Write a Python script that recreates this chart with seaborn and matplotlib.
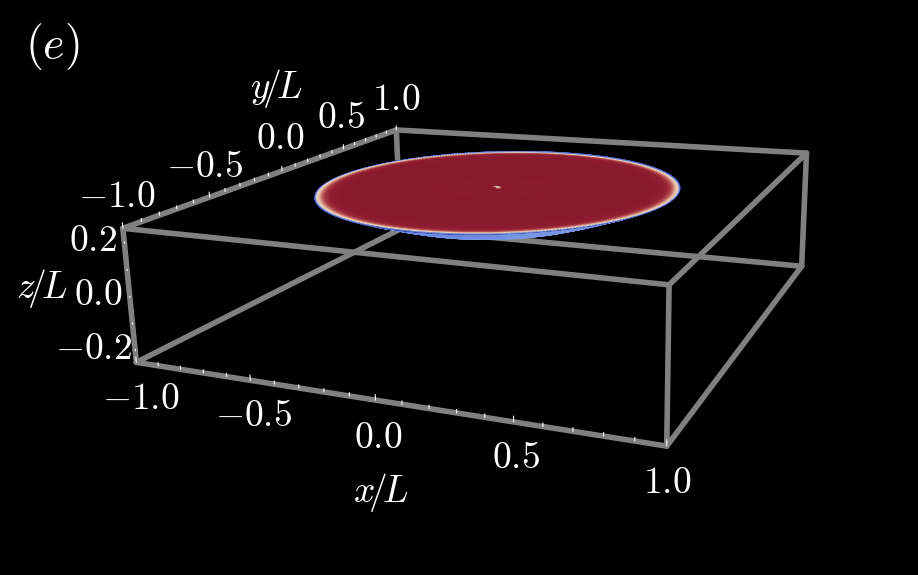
#!/usr/bin/env python3
import numpy as np
import pandas as pd
import seaborn as sns
import matplotlib.pyplot as plt

# box limits and ticks
x_lim = [-1.0, 1.0]
y_lim = [-1.0, 1.0]
z_lim = [-0.25, 0.25]
x_ticks = [-1.0, -0.5, 0.0, 0.5, 1.0]
y_ticks = [-1.0, -0.5, 0.0, 0.5, 1.0]
z_ticks = [-0.2, 0.0, 0.2]

# droplet: radial field (0 = blue rim, 1 = dark red)
radius = [0.0, 0.008, 0.02, 0.05, 0.12, 0.2, 0.3, 0.45, 0.55, 0.62, 0.65, 0.672, 0.688, 0.699, 0.703, 0.707]
top_field = [0.36, 0.55, 0.95, 0.98, 0.97, 0.98, 1.0, 1.0, 0.99, 0.95, 0.88, 0.74, 0.54, 0.42, 0.28, 0.04]
under_field = [0.2, 0.2, 0.22, 0.21, 0.19, 0.22, 0.2, 0.22, 0.2, 0.19, 0.2, 0.2, 0.18, 0.15, 0.1, 0.0]
sag = [0.098, 0.098, 0.098, 0.098, 0.098, 0.097, 0.096, 0.088, 0.056, 0.031, 0.021, 0.013, 0.007, 0.003, 0.001, 0.0]

# camera: where the box corners land on the 918x575 canvas
corner_xyz = [(-1, -1, 0.25), (1, -1, 0.25), (1, 1, 0.25), (-1, 1, 0.25),
              (-1, -1, -0.25), (1, -1, -0.25), (1, 1, -0.25), (-1, 1, -0.25)]
corner_px = [(122, 228), (668, 287), (806, 153), (398, 129),
             (137, 361), (668, 446), (802, 265), (399, 231)]


def fit_camera(xyz, px):
    rows = []
    rhs = []
    for (X, Y, Z), (u, v) in zip(xyz, px):
        rows.append([X, Y, Z, 1, 0, 0, 0, 0, -u * X, -u * Y, -u * Z])
        rows.append([0, 0, 0, 0, X, Y, Z, 1, -v * X, -v * Y, -v * Z])
        rhs += [u, v]
    p = np.linalg.lstsq(np.array(rows, float), np.array(rhs, float), rcond=None)[0]
    return np.append(p, 1.0).reshape(3, 4)


CAM = fit_camera(corner_xyz, corner_px)


def project(X, Y, Z):
    X, Y, Z = np.broadcast_arrays(X, Y, Z)
    w = CAM[2, 0] * X + CAM[2, 1] * Y + CAM[2, 2] * Z + CAM[2, 3]
    u = (CAM[0, 0] * X + CAM[0, 1] * Y + CAM[0, 2] * Z + CAM[0, 3]) / w
    v = (CAM[1, 0] * X + CAM[1, 1] * Y + CAM[1, 2] * Z + CAM[1, 3]) / w
    return u, v


def segments(pairs):
    rows = []
    for i, (a, b) in enumerate(pairs):
        for p in (a, b):
            u, v = project(*p)
            rows.append({"u": float(u), "v": float(v), "seg": i})
    return pd.DataFrame(rows)


sns.set_theme(style="dark", rc={"figure.facecolor": "black", "axes.facecolor": "black",
                                "mathtext.fontset": "cm", "text.color": "white"})

fig = plt.figure(figsize=(9.18, 5.75), dpi=100)
ax = fig.add_axes([0, 0, 1, 1])
ax.set_xlim(0, 918)
ax.set_ylim(575, 0)
ax.axis("off")

# box edges
x0, x1 = x_lim
y0, y1 = y_lim
z0, z1 = z_lim
edges = []
for z in (z0, z1):
    edges += [((x0, y0, z), (x1, y0, z)), ((x1, y0, z), (x1, y1, z)),
              ((x1, y1, z), (x0, y1, z)), ((x0, y1, z), (x0, y0, z))]
for x in (x0, x1):
    for y in (y0, y1):
        edges.append(((x, y, z0), (x, y, z1)))
sns.lineplot(data=segments(edges), x="u", y="v", units="seg", estimator=None, sort=False,
             color="#808080", linewidth=4.0, ax=ax, zorder=2, legend=False)

# tick marks
ticks = []
for t in np.arange(-10, 11):
    s = t / 10
    length = 0.02 if t % 5 == 0 else 0.012
    ticks.append(((s, y0, z0), (s, y0, z0 + length)))
    ticks.append(((x0, s, z1), (x0, s, z1 + length)))
for t in np.arange(-2, 3):
    s = t / 10
    ticks.append(((x0, y0, s), (x0 + 0.012, y0 - 0.012, s)))
sns.lineplot(data=segments(ticks), x="u", y="v", units="seg", estimator=None, sort=False,
             color="white", linewidth=0.8, ax=ax, zorder=3, legend=False)

# droplet
cmap = sns.blend_palette(["#1c2f9a", "#6f8fe6", "#f6ead2", "#d98f7a", "#9c2335", "#871a2d"], as_cmap=True)
theta = np.linspace(0, 2 * np.pi, 361)
R, T = np.meshgrid(radius, theta)
DX = R * np.cos(T)
DY = R * np.sin(T)
drop_z = 0.25
u, v = project(DX, DY, drop_z - np.interp(R, radius, sag))
ax.pcolormesh(u, v, np.interp(R, radius, under_field), cmap=cmap, vmin=0, vmax=1,
              shading="gouraud", zorder=4)
u, v = project(DX, DY, drop_z)
ax.pcolormesh(u, v, np.interp(R, radius, top_field), cmap=cmap, vmin=0, vmax=1,
              shading="gouraud", zorder=5)

# labels
label_size = 27


def label(px, py, s, size=label_size):
    ax.text(px, py, s, color="white", fontsize=size, ha="center", va="center", zorder=6)


for t, (px, py) in zip(x_ticks, [(141, 399), (254, 416), (378, 438), (516, 458), (667, 483)]):
    label(px, py, f"${t:.1f}$")
for t, (px, py) in zip(y_ticks, [(117, 197), (205, 167), (280, 139), (341, 118), (396, 100)]):
    label(px, py, f"${t:.1f}$")
for t, (px, py) in zip(z_ticks, [(94, 349), (98, 295), (93, 241)]):
    label(px, py, f"${t:.1f}$")
label(381, 492, r"$x\!/\!L$")
label(276, 88, r"$y\!/\!L$")
label(42, 289, r"$z\!/\!L$")
label(52, 47, r"$(e)$", size=33)

plt.savefig("out.png", dpi=100, facecolor="black")
